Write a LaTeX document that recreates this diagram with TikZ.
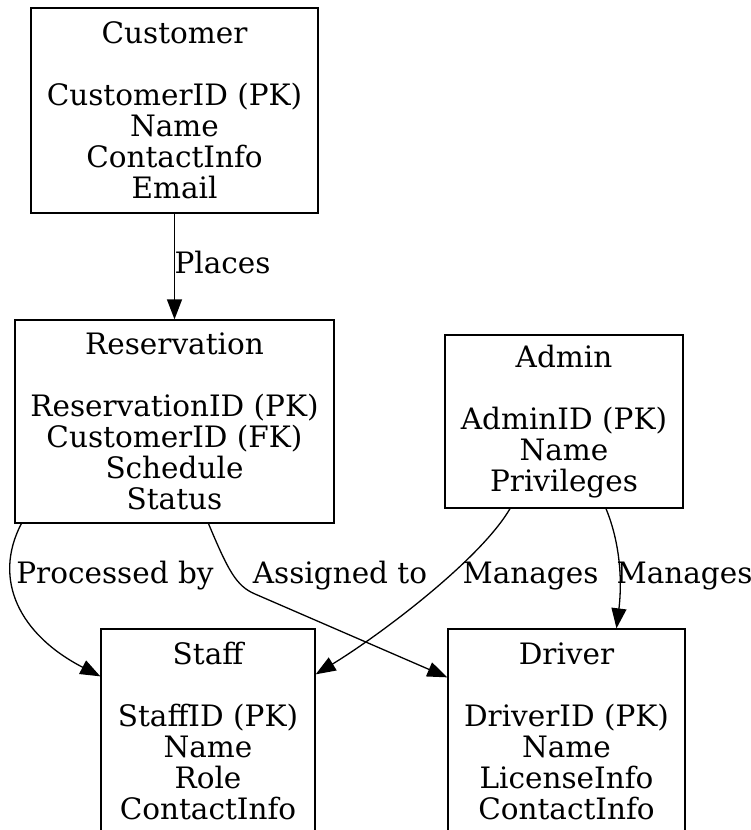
\documentclass[tikz,border=0pt]{standalone}
\usepackage{fontspec}
\setmainfont{DejaVu Serif}
\usetikzlibrary{arrows.meta}

\tikzset{
  entity/.style={draw, line width=1.3pt, align=center, inner sep=0pt,
    font=\fontsize{29.5}{31}\selectfont},
  rel/.style={-{Triangle[length=20pt,width=15pt]}, line width=1.3pt},
  lbl/.style={font=\fontsize{29.5}{31}\selectfont, inner sep=0pt, anchor=base},
}

\begin{document}
\begin{tikzpicture}[x=1pt, y=-1pt]
      \useasboundingbox (0,0) rectangle (751,830);
      \node[entity, minimum width=287pt, minimum height=205pt] (customer) at (174.5,110.5)
        {Customer\\[31pt]CustomerID (PK)\\Name\\ContactInfo\\Email};
      \node[entity, minimum width=319pt, minimum height=203pt] (reservation) at (174.5,421.5)
        {Reservation\\[31pt]ReservationID (PK)\\CustomerID (FK)\\Schedule\\Status};
      \node[entity, minimum width=238pt, minimum height=173pt] (admin) at (564,421.5)
        {Admin\\[31pt]AdminID (PK)\\Name\\Privileges};
      \node[entity, minimum width=214pt, minimum height=204pt] (staff) at (208,731)
        {Staff\\[31pt]StaffID (PK)\\Name\\Role\\ContactInfo};
      \node[entity, minimum width=237pt, minimum height=204pt] (driver) at (566.5,731)
        {Driver\\[31pt]DriverID (PK)\\Name\\LicenseInfo\\ContactInfo};
      % relations
      \draw[rel] (customer) -- (reservation);
      \draw[rel] ([xshift=7pt]reservation.south west) .. controls (-8,580) and (20,635) .. ([yshift=-48pt]staff.north west);
      \draw[rel] ([xshift=34pt]reservation.south) .. controls (228,570) and (236,586) .. (255,594) -- ([yshift=-49pt]driver.north west);
      \draw[rel] ([xshift=-54pt]admin.south) .. controls (480,560) and (380,635) .. ([yshift=-46pt]staff.north east);
      \draw[rel] ([xshift=42pt]admin.south) .. controls (625,555) and (620,600) .. ([xshift=50pt]driver.north);
      \node[lbl] (placeslbl) at (222.5,273) {Places};
      \node[lbl] (processedlbl) at (115,583) {Processed by};
      \node[lbl] (assignedlbl) at (340,583) {Assigned to};
      \node[lbl] (manageslbla) at (530.5,583) {Manages};
      \node[lbl] (manageslblb) at (684.5,583) {Manages};
\end{tikzpicture}
\end{document}
